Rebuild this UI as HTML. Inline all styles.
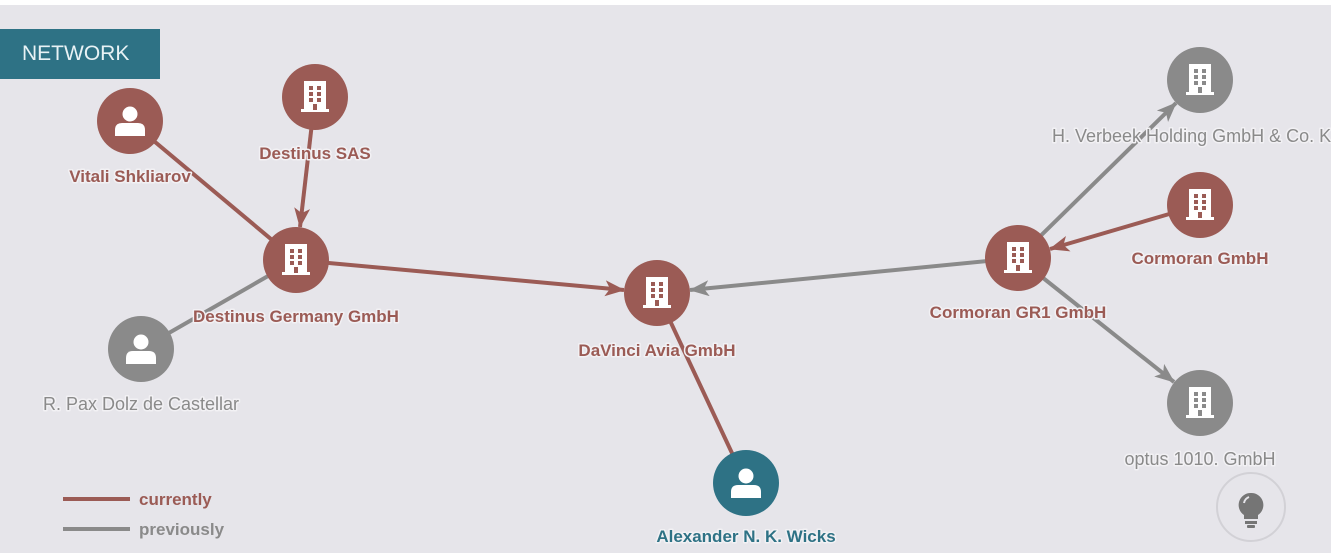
<!DOCTYPE html>
<html><head><meta charset="utf-8"><style>
html,body{margin:0;padding:0;background:#fff}
body{width:1336px;height:558px;overflow:hidden;position:relative;font-family:"Liberation Sans",sans-serif}
.bg{position:absolute;left:0;top:5px;width:1331px;height:548px;background:#e6e5ea}
.net{position:absolute;left:0;top:29px;width:160px;height:50px;background:#2e7285;color:#e8f2f5;font-size:21px;line-height:50px;padding-left:22px;box-sizing:border-box}
svg{position:absolute;left:0;top:0}
text{font-family:"Liberation Sans",sans-serif;font-size:17px;font-weight:bold;paint-order:stroke;stroke:#f2f1f4;stroke-width:3px;stroke-linejoin:round}
.r{fill:#9b5b55}.g{fill:#8a8a8a}.t{fill:#2e7285}
.n{font-weight:normal;font-size:18px}
</style></head><body>
<div class="bg"></div>
<svg width="1336" height="558" viewBox="0 0 1336 558">
<defs>
<marker id="ar" markerUnits="userSpaceOnUse" markerWidth="24" markerHeight="20" refX="19" refY="8" orient="auto"><path d="M0,0 L20,8 L0,16 L5,8z" fill="#9b5b55"/></marker>
<marker id="ag" markerUnits="userSpaceOnUse" markerWidth="24" markerHeight="20" refX="19" refY="8" orient="auto"><path d="M0,0 L20,8 L0,16 L5,8z" fill="#8a8a8a"/></marker>
<g id="bld"><rect x="-11" y="-16" width="22" height="29" fill="#fff"/><rect x="-14" y="12" width="28" height="3" fill="#fff"/>
<g fill="currentColor"><rect x="-6" y="-11" width="4" height="4"/><rect x="2" y="-11" width="4" height="4"/><rect x="-6" y="-5" width="4" height="4"/><rect x="2" y="-5" width="4" height="4"/><rect x="-6" y="1" width="4" height="4"/><rect x="2" y="1" width="4" height="4"/><rect x="-2" y="7" width="4" height="6"/></g></g>
<g id="per"><circle cx="0" cy="-7" r="7.5" fill="#fff"/><path d="M-15,15 L-15,9 Q-15,2 -8,2 L8,2 Q15,2 15,9 L15,15z" fill="#fff"/></g>
</defs>
<g stroke-width="4" fill="none">
<line x1="130" y1="121" x2="296" y2="260" stroke="#9b5b55"/>
<line x1="315" y1="97" x2="300" y2="227" stroke="#9b5b55" marker-end="url(#ar)"/>
<line x1="141" y1="349" x2="296" y2="260" stroke="#8a8a8a"/>
<line x1="296" y1="260" x2="624" y2="290" stroke="#9b5b55" marker-end="url(#ar)"/>
<line x1="1018" y1="258" x2="690" y2="290" stroke="#8a8a8a" marker-end="url(#ag)"/>
<line x1="657" y1="293" x2="746" y2="483" stroke="#9b5b55"/>
<line x1="1018" y1="258" x2="1176" y2="103" stroke="#8a8a8a" marker-end="url(#ag)"/>
<line x1="1200" y1="205" x2="1050" y2="249" stroke="#9b5b55" marker-end="url(#ar)"/>
<line x1="1018" y1="258" x2="1174" y2="382" stroke="#8a8a8a" marker-end="url(#ag)"/>
</g>
<g>
<circle cx="130" cy="121" r="33" fill="#9b5b55"/><use href="#per" x="130" y="121"/>
<circle cx="315" cy="97" r="33" fill="#9b5b55"/><use href="#bld" x="315" y="97" color="#9b5b55"/>
<circle cx="296" cy="260" r="33" fill="#9b5b55"/><use href="#bld" x="296" y="260" color="#9b5b55"/>
<circle cx="141" cy="349" r="33" fill="#8a8a8a"/><use href="#per" x="141" y="349"/>
<circle cx="657" cy="293" r="33" fill="#9b5b55"/><use href="#bld" x="657" y="293" color="#9b5b55"/>
<circle cx="746" cy="483" r="33" fill="#2e7285"/><use href="#per" x="746" y="483"/>
<circle cx="1018" cy="258" r="33" fill="#9b5b55"/><use href="#bld" x="1018" y="258" color="#9b5b55"/>
<circle cx="1200" cy="80" r="33" fill="#8a8a8a"/><use href="#bld" x="1200" y="80" color="#8a8a8a"/>
<circle cx="1200" cy="205" r="33" fill="#9b5b55"/><use href="#bld" x="1200" y="205" color="#9b5b55"/>
<circle cx="1200" cy="403" r="33" fill="#8a8a8a"/><use href="#bld" x="1200" y="403" color="#8a8a8a"/>
</g>
<g text-anchor="middle">
<text x="130" y="182" class="r">Vitali Shkliarov</text>
<text x="315" y="159" class="r">Destinus SAS</text>
<text x="296" y="322" class="r">Destinus Germany GmbH</text>
<text x="141" y="410" class="g n">R. Pax Dolz de Castellar</text>
<text x="657" y="356" class="r">DaVinci Avia GmbH</text>
<text x="746" y="542" class="t">Alexander N. K. Wicks</text>
<text x="1018" y="318" class="r">Cormoran GR1 GmbH</text>
<text x="1200" y="264" class="r">Cormoran GmbH</text>
<text x="1200" y="465" class="g n">optus 1010. GmbH</text>
</g>
<text x="1052" y="142" class="g n">H. Verbeek Holding GmbH &amp; Co. K</text>
<rect x="1331" y="5" width="5" height="553" fill="#fff"/>
<line x1="63" y1="499" x2="130" y2="499" stroke="#9b5b55" stroke-width="4"/>
<line x1="63" y1="529" x2="130" y2="529" stroke="#8a8a8a" stroke-width="4"/>
<text x="139" y="505" class="r" style="stroke:none">currently</text>
<text x="139" y="535" class="g" style="stroke:none">previously</text>
<circle cx="1251" cy="507" r="34" fill="none" stroke="#d2d1d6" stroke-width="2"/>
<path d="M1251,493 a12,12 0 0 1 7,22 l0,4 l-14,0 l0,-4 a12,12 0 0 1 7,-22z" fill="#757575"/>
<rect x="1245" y="521" width="12" height="3" fill="#757575"/><rect x="1247" y="525" width="8" height="3" rx="1" fill="#757575"/>
<path d="M1244,503 a8,8 0 0 1 5,-6" stroke="#e6e5ea" stroke-width="2" fill="none"/>
</svg>
<div class="net">NETWORK</div>
</body></html>
